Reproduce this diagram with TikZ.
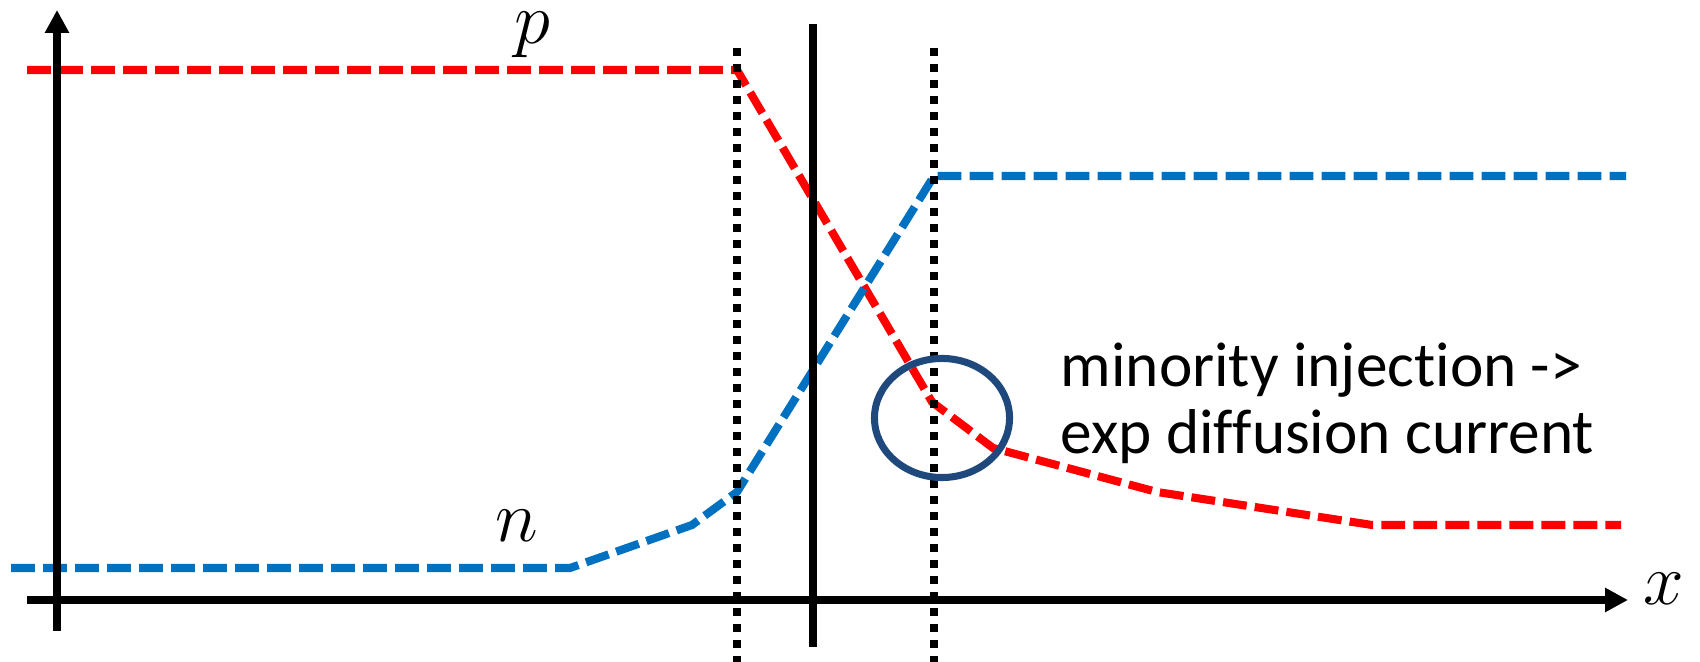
\documentclass[tikz,border=0pt]{standalone}
\usepackage{fontspec}
\newfontfamily\calibri[Ligatures=NoCommon, RawFeature={-liga;-clig;-dlig;-calt}]{Carlito}
\usepackage{xcolor}
\definecolor{pred}{RGB}{255,0,0}
\definecolor{nblue}{RGB}{0,112,192}
\definecolor{ringblue}{RGB}{31,73,125}
\usepackage{tikz}
\usetikzlibrary{arrows.meta, shapes.geometric}

\begin{document}
\begin{tikzpicture}[x=0.01cm, y=-0.01cm,
  axis/.style={line width=2.3pt, -{Triangle[length=6.5pt, width=6.5pt]}},
  carrier/.style={line width=2.3pt, dash pattern=on 6.8pt off 2.3pt},
  edgeline/.style={line width=2.2pt, dash pattern=on 2.2pt off 2.35pt},
  mathlbl/.style={font=\fontsize{22}{26}\selectfont, anchor=base, inner sep=0pt},
  note/.style={font=\calibri\fontsize{18}{19}\selectfont, anchor=base west, inner sep=0pt}]
\useasboundingbox (0,0) rectangle (1700,662);

% carrier profiles
\draw[carrier, pred] (27,70) -- (737,70) -- (932,402) -- (993,448)
  -- (1157,492) -- (1372,525) -- (1621,525);
\draw[carrier, nblue] (11,568) -- (570,568) -- (692,525) -- (737,492)
  -- (934,176) -- (1626,176);

% junction and depletion edges
\coordinate (jtop) at (813,24);
\coordinate (jbot) at (813,647);
\draw[line width=2.2pt] (jtop) -- (jbot);
\foreach \x in {737, 934} {
  \draw[edgeline] (\x,48) -- (\x,662);
}

% injection ring
\node[draw=ringblue, line width=2pt, ellipse, minimum width=1.35cm, minimum height=1.19cm,
      inner sep=0pt] (ring) at (942,418) {};

% axes
\coordinate (ybot) at (57,631);
\coordinate (ytop) at (57,10);
\coordinate (xleft) at (27,600);
\coordinate (xright) at (1628,600);
\draw[axis] (ybot) -- (ytop);
\draw[axis] (xleft) -- (xright);

\node[mathlbl] (plbl) at (532,44) {$p$};
\node[mathlbl] (nlbl) at (517,542) {$n$};
\node[mathlbl] (xlbl) at (1664,605) {$x$};

\node[note] (line1) at (1060,387) {minority injection ->};
\node[note] (line2) at (1060,454) {exp diffusion current};
\end{tikzpicture}
\end{document}
